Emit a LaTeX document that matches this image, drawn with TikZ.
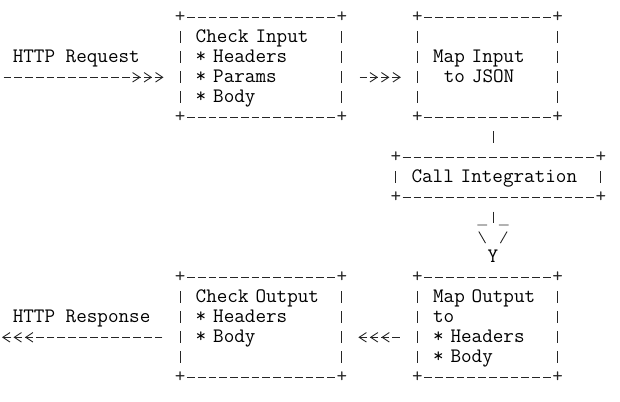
\documentclass[tikz,border=0pt]{standalone}
\usepackage{fontspec}
\usetikzlibrary{arrows.meta}
\definecolor{ink}{gray}{0.15}
\newcommand{\ascstrut}{\vrule width 0pt height 15pt depth 5pt}
\tikzset{
  mono/.style={font=\ttfamily\fontsize{20.55}{20}\selectfont, inner sep=0pt, outer sep=0pt}, % one character is 10.79pt wide, one line 20pt high
  ascbox/.style 2 args={mono, rectangle, align=left, inner xsep=15.7pt, inner ysep=0pt, text width=#1, minimum height=#2,
    execute at begin node=\ascstrut, execute at end node=\ascstrut}, % text of a box
  corner/.style={mono, text=ink}, % the + of a box
  ascline/.style={ink, line width=0.9pt},
  hline/.style={ascline, dash pattern=on 7.8pt off 2.99pt, shorten <=6.89pt, shorten >=6.89pt}, % the ---- of a box
  vline/.style={ascline, dash pattern=on 12pt off 8pt, shorten <=14pt, shorten >=14pt}, % the | of a box
  ascarrow/.style={ascline, dash pattern=on 7.8pt off 2.99pt,
    -{Straight Barb[length=7.2pt,width=9.5pt,sep=3pt]Straight Barb[length=7.2pt,width=9.5pt,sep=3pt]Straight Barb[length=7.2pt,width=9.5pt]},
    shorten >=16.5pt}, % ------>>>
}

\begin{document}
\begin{tikzpicture}[x=10.79pt, y=-20pt] % one unit = one character cell
  \useasboundingbox (-0.686,-0.865) rectangle (56.775,19.235);

  % boxes
  \node[ascbox={130.45pt}{100pt}] (chkin) at (23.5,2.5) {Check Input\\{*} Headers\\{*} Params\\{*} Body};
  \node[ascbox={108.87pt}{100pt}] (mapin) at (44.5,2.5) {Map Input\\\hspace*{10.79pt}to JSON};
  \node[ascbox={173.61pt}{40pt}] (callint) at (45.5,8) {Call Integration};
  \node[ascbox={108.87pt}{100pt}] (mapout) at (44.5,15.5) {Map Output\\to\\{*} Headers\\{*} Body};
  \node[ascbox={130.45pt}{100pt}] (chkout) at (23.5,15.5) {Check Output\\{*} Headers\\{*} Body\\};

  \foreach \b in {chkin,mapin,callint,mapout,chkout}{
    \draw[hline] (\b.north west) -- (\b.north east);
    \draw[hline] (\b.south west) -- (\b.south east);
    \draw[vline] (\b.north west) -- (\b.south west);
    \draw[vline] (\b.north east) -- (\b.south east);
    \foreach \c/\n in {north west/nw,north east/ne,south west/sw,south east/se}
      \node[corner] (\b-\n) at (\b.\c) {+};
  }

  % labels
  \node[mono, anchor=base west, yshift=-5pt] (reqlbl) at (0.5,2) {HTTP Request};
  \node[mono, anchor=base west, yshift=-5pt] (resplbl) at (0.5,15) {HTTP Response};
  \node[mono, anchor=base, yshift=-5pt] (tip) at (45,12) {Y};
  \coordinate (reqtail) at (-0.361,3);
  \coordinate (resphead) at (-0.5,16);
  \coordinate (head) at (45,10);

  % connectors
  \draw[ascarrow] (reqtail) -- (reqtail -| chkin.west);
  \draw[ascarrow, shorten <=17.68pt] (chkin.east |- reqtail) -- (mapin.west |- reqtail);
  \draw[vline] (mapin.south -| tip) -- (callint.north -| tip);
  \draw[ascline, shorten <=14.2pt, shorten >=26.8pt] (callint.south -| tip) -- (tip);
  \draw[ascline] ([shift={(-1.45,0.385)}]head) -- ([shift={(-0.55,0.385)}]head)
                 ([shift={(0.55,0.385)}]head) -- ([shift={(1.45,0.385)}]head)
                 ([shift={(-1.31,0.71)}]head) -- ([shift={(-0.69,1.29)}]head)
                 ([shift={(0.69,1.29)}]head) -- ([shift={(1.31,0.71)}]head);
  \draw[ascarrow, shorten <=17.68pt] (mapout.west |- resphead) -- (chkout.east |- resphead);
  \draw[ascarrow, shorten <=17.68pt, shorten >=0pt] (chkout.west |- resphead) -- (resphead);
\end{tikzpicture}
\end{document}
